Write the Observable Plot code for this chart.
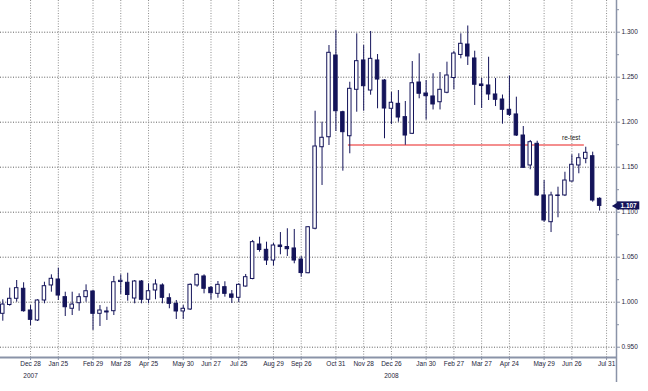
<!DOCTYPE html>
<html><head><meta charset="utf-8">
<script src="https://cdn.jsdelivr.net/npm/d3@7"></script>
<script src="https://cdn.jsdelivr.net/npm/@observablehq/plot@0.6"></script>
<style>html,body{margin:0;padding:0;background:#fff;} #chart svg{display:block}</style>
</head><body><div id="chart"></div>
<script>
// Weekly candles, first and last week (Fridays)
const firstWeek = "2007-11-30";
const afterLastWeek = "2009-07-25";

const open = [
0.9871,0.9969,1.0038,1.0149,0.9908,0.9797,1.0019,1.0186,1.0252,1.0056,
0.9927,0.9989,1.0056,1.0119,0.9871,0.9897,0.9900,1.0224,1.0216,1.0041,
1.0230,1.0027,1.0130,1.0186,1.0044,0.9982,0.9897,0.9919,1.0186,1.0286,
1.0160,1.0093,1.0167,1.0086,1.0049,1.0174,1.0258,1.0641,1.0582,1.0463,
1.0630,1.0613,1.0597,1.0474,1.0322,1.0816,1.1722,1.1833,1.2741,1.2111,
1.1844,1.2360,1.2686,1.2352,1.2686,1.2463,1.2149,1.2204,1.2056,1.1871,
1.2441,1.2319,1.2286,1.2222,1.2327,1.2491,1.2747,1.2863,1.2708,1.2419,
1.2408,1.2308,1.2252,1.2138,1.2086,1.1852,1.1519,1.1760,1.1186,1.0889,
1.1186,1.1186,1.1341,1.1519,1.1593,1.1622,1.1149];
const high = [
1.0027,1.0156,1.0241,1.0216,0.9963,1.0027,1.0222,1.0304,1.0378,1.0111,
1.0111,1.0093,1.0193,1.0130,0.9963,0.9944,1.0286,1.0304,1.0322,1.0241,
1.0241,1.0204,1.0249,1.0204,1.0093,1.0019,0.9963,1.0204,1.0316,1.0304,
1.0174,1.0230,1.0227,1.0130,1.0204,1.0308,1.0686,1.0722,1.0667,1.0652,
1.0774,1.0816,1.0808,1.0508,1.0841,1.2122,1.2000,1.2852,1.3019,1.2122,
1.2444,1.2982,1.2852,1.3008,1.2752,1.2474,1.2330,1.2352,1.2230,1.2674,
1.2760,1.2463,1.2538,1.2552,1.2667,1.2786,1.2982,1.3069,1.2789,1.2486,
1.2722,1.2486,1.2302,1.2513,1.2278,1.1952,1.1797,1.1789,1.1352,1.1222,
1.1278,1.1444,1.1638,1.1649,1.1722,1.1667,1.1160];
const low = [
0.9789,0.9956,1.0000,0.9889,0.9741,0.9786,0.9982,1.0111,1.0019,0.9841,
0.9852,0.9900,1.0000,0.9686,0.9730,0.9797,0.9852,1.0086,1.0011,0.9982,
0.9982,0.9982,1.0027,0.9982,0.9927,0.9808,0.9808,0.9908,1.0167,1.0093,
1.0027,1.0044,1.0056,0.9986,0.9997,1.0167,1.0249,1.0556,1.0408,1.0402,
1.0527,1.0508,1.0427,1.0278,1.0316,1.0804,1.1297,1.1741,1.1897,1.1456,
1.1649,1.2111,1.2122,1.2300,1.2149,1.1816,1.1974,1.2000,1.1744,1.1863,
1.2260,1.2024,1.2136,1.2136,1.2316,1.2360,1.2704,1.2630,1.2186,1.2152,
1.2241,1.2174,1.1978,1.2063,1.1841,1.1489,1.1471,1.1174,1.0889,1.0774,
1.0938,1.1174,1.1333,1.1427,1.1538,1.1111,1.1013];
const close = [
0.9974,1.0038,1.0156,0.9900,0.9804,1.0019,1.0178,1.0260,1.0074,0.9944,
0.9974,1.0056,1.0122,0.9871,0.9908,0.9886,1.0222,1.0238,1.0080,1.0230,
1.0027,1.0122,1.0197,1.0049,0.9982,0.9897,0.9927,1.0193,1.0304,1.0149,
1.0100,1.0193,1.0093,1.0049,1.0193,1.0278,1.0667,1.0580,1.0463,1.0630,
1.0613,1.0589,1.0463,1.0324,1.0833,1.1730,1.1827,1.2771,1.2122,1.1889,
1.2371,1.2678,1.2400,1.2704,1.2474,1.2152,1.2216,1.2052,1.1852,1.2433,
1.2316,1.2289,1.2197,1.2360,1.2519,1.2763,1.2871,1.2730,1.2416,1.2402,
1.2308,1.2249,1.2138,1.2082,1.1852,1.1493,1.1778,1.1186,1.0908,1.1186,
1.1180,1.1352,1.1527,1.1600,1.1660,1.1130,1.1070];

const tickDates = ["2007-12-28","2008-01-25","2008-02-29","2008-03-28","2008-04-25","2008-05-30",
  "2008-06-27","2008-07-25","2008-08-29","2008-09-26","2008-10-31","2008-11-28","2008-12-26",
  "2009-01-30","2009-02-27","2009-03-27","2009-04-24","2009-05-29","2009-06-26","2009-07-31"];
const yTicks = [0.95,1.00,1.05,1.10,1.15,1.20,1.25,1.30];
const yMinor = [0.975,1.025,1.075,1.125,1.175,1.225,1.275,1.325];
const yearDates = ["2007-12-28","2008-12-26"];
const yearTexts = ["2007","2008"];
const retestLevel = 1.1747;
const retestWeeks = [49.8, 83.8];
const retestLabel = "re-test";

const navy = "#14145a";
const axisGray = "#8a93a8";
const day = 864e5;
const shift = (d, days) => new Date(+d + days * day);

const weeks = d3.utcFriday.range(new Date(firstWeek), new Date(afterLastWeek));
const candles = weeks.map((date, i) => ({date, open: open[i], high: high[i], low: low[i], close: close[i]}));
const atWeek = k => shift(weeks[0], 7 * k);
const xStart = atWeek(-0.331), xEnd = atWeek(88.43);
const yLo = 0.93856, yHi = 1.33522;
const ticks = tickDates.map(s => new Date(s));
const years = yearDates.map((s, i) => ({date: new Date(s), text: yearTexts[i]}));
const lastPrice = close[close.length - 1];

const chart = Plot.plot({
  width: 648, height: 391,
  marginLeft: 0, marginRight: 32, marginTop: 0, marginBottom: 34,
  x: {type: "utc", domain: [xStart, xEnd], axis: null},
  y: {domain: [yLo, yHi], axis: null},
  color: {type: "identity"},
  style: {fontFamily: "'Liberation Sans', Arial, sans-serif", fontSize: "6.5px", background: "white", color: "#1e1e3a"},
  marks: [
    Plot.ruleY(yTicks, {stroke: "#5e5e5e", strokeDasharray: "1,1.6"}),
    Plot.ruleX(ticks, {stroke: "#8c8c8c", strokeDasharray: "1,1.6"}),
    Plot.ruleY([retestLevel], {x1: atWeek(retestWeeks[0]), x2: atWeek(retestWeeks[1]), stroke: "#f27a7a", strokeWidth: 2, strokeOpacity: 0.85}),
    Plot.ruleX(candles, {x: "date", y1: "low", y2: "high", stroke: navy, strokeWidth: 1}),
    Plot.rect(candles, {
      x1: d => shift(d.date, -1.75), x2: d => shift(d.date, 1.75),
      y1: "open", y2: "close",
      fill: d => d.close >= d.open ? "white" : navy,
      stroke: navy, strokeWidth: 1
    }),
    Plot.ruleY([yLo], {stroke: axisGray, strokeWidth: 2}),
    Plot.ruleX([xEnd], {y1: yHi, y2: 0.9108, stroke: axisGray, strokeWidth: 1.5}),
    Plot.axisX(ticks, {anchor: "bottom", tickFormat: d3.utcFormat("%b %d"), tickSize: 3, tickPadding: 1, stroke: axisGray}),
    Plot.text(years, {x: "date", y: () => 0.9186, text: "text"}),
    Plot.axisY(yTicks, {anchor: "right", tickFormat: d3.format(".3f"), tickSize: 3, tickPadding: 2, stroke: axisGray}),
    Plot.axisY(yMinor, {anchor: "right", tickFormat: () => "", tickSize: 2, stroke: axisGray}),
    Plot.text([retestLabel], {x: atWeek(81.9), y: () => 1.183, text: d => d, fill: "#222"}),
    Plot.rect([lastPrice], {x1: shift(xEnd, 1), x2: shift(xEnd, 23.5), y1: d => d - 0.0045, y2: d => d + 0.0045, fill: navy}),
    Plot.dot([lastPrice], {x: xEnd, y: d => d, symbol: "triangle", r: 3, rotate: -90, fill: navy}),
    Plot.text([lastPrice], {x: shift(xEnd, 12.2), y: d => d, text: d => d3.format(".3f")(d), fill: "white", fontWeight: "bold"})
  ]
});
document.getElementById("chart").appendChild(chart);
</script>
</body></html>
